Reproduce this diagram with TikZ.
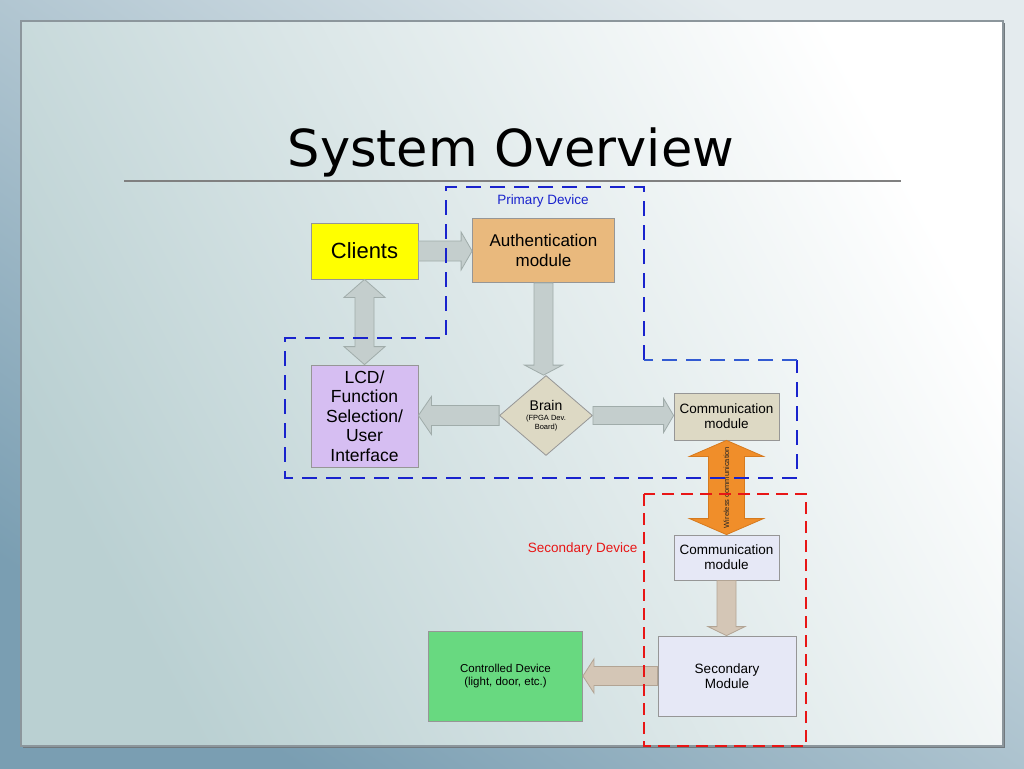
\documentclass[tikz,border=0pt]{standalone}
\usepackage{fontspec}
\setmainfont{Liberation Sans}
\newfontfamily\titlefont{DejaVu Sans}
\usetikzlibrary{calc,shapes.geometric}
\definecolor{cyellow}{RGB}{255,255,0}
\definecolor{cauth}{RGB}{233,185,125}
\definecolor{clcd}{RGB}{214,190,242}
\definecolor{cbeige}{RGB}{221,217,196}
\definecolor{clav}{RGB}{230,232,246}
\definecolor{cgreen}{RGB}{104,217,128}
\definecolor{boxline}{RGB}{150,150,150}
\definecolor{agray}{RGB}{196,206,205}
\definecolor{agrayd}{RGB}{160,172,170}
\definecolor{atan}{RGB}{212,198,182}
\definecolor{atand}{RGB}{178,164,148}
\definecolor{aorange}{RGB}{240,142,42}
\definecolor{aoranged}{RGB}{214,122,30}
\definecolor{cblue}{RGB}{25,35,205}
\definecolor{cbluel}{RGB}{50,90,210}
\definecolor{cred}{RGB}{232,22,22}
\definecolor{bgdark}{RGB}{122,158,178}
\definecolor{bglight}{RGB}{228,235,238}
\definecolor{panelteal}{RGB}{186,208,210}
\definecolor{panelborder}{RGB}{140,150,156}

\newcommand\blockarrow[6][]{%
  \path (#2); \pgfgetlastxy{\bax}{\bay}%
  \path (#3); \pgfgetlastxy{\bbx}{\bby}%
  \pgfmathsetmacro\bang{atan2(\bby-(\bay),\bbx-(\bax))}%
  \pgfmathsetmacro\blen{veclen(\bbx-(\bax),\bby-(\bay))}%
  \pgfmathsetmacro\bneck{\blen-#6}%
  \draw[#1,shift={(\bax,\bay)},rotate=\bang] (0,#4) -- (\bneck,#4) -- (\bneck,#5)
     -- (\blen,0) -- (\bneck,-#5) -- (\bneck,-#4) -- (0,-#4) -- cycle;}
\newcommand\dblarrow[6][]{%
  \path (#2); \pgfgetlastxy{\bax}{\bay}%
  \path (#3); \pgfgetlastxy{\bbx}{\bby}%
  \pgfmathsetmacro\bang{atan2(\bby-(\bay),\bbx-(\bax))}%
  \pgfmathsetmacro\blen{veclen(\bbx-(\bax),\bby-(\bay))}%
  \pgfmathsetmacro\bneck{\blen-#6}%
  \draw[#1,shift={(\bax,\bay)},rotate=\bang] (0,0) -- (#6,#5) -- (#6,#4) -- (\bneck,#4)
     -- (\bneck,#5) -- (\blen,0) -- (\bneck,-#5) -- (\bneck,-#4) -- (#6,-#4) -- (#6,-#5) -- cycle;}

\begin{document}
\begin{tikzpicture}[x=1pt,y=-1pt,
  box/.style={draw=boxline, line width=0.8pt, inner sep=0pt, align=center, text=black},
  garrow/.style={fill=agray, draw=agrayd, line width=0.8pt},
  tarrow/.style={fill=atan, draw=atand, line width=0.8pt},
  oarrow/.style={fill=aorange, draw=aoranged, line width=0.8pt},
  bluedash/.style={draw=cblue, line width=2.4pt, dash pattern=on 15pt off 9pt},
  reddash/.style={draw=cred, line width=2.4pt, dash pattern=on 12pt off 7pt}]
\useasboundingbox (0,0) rectangle (1024,768);
% slide background
\shade[top color=bglight, bottom color=bgdark, shading angle=-35] (0,0) rectangle (1024,768);
\shade[top color=white, bottom color=panelteal, shading angle=-62] (21,21) rectangle (1003,746);
\draw[panelborder, line width=1.2pt] (21,21) rectangle (1003,746);
\draw[color=panelborder!80!black, line width=1.4pt] (1004.5,23) -- (1004.5,747.5) -- (23,747.5);
% title
\node[font=\titlefont\fontsize{51}{60}\selectfont, anchor=base] (title) at (511,166) {System Overview};
\draw[color=black!50, line width=2pt] (124,181) -- (901,181);

% nodes
\node[box, fill=cyellow, minimum width=107, minimum height=56, font=\fontsize{22}{26}\selectfont] (clients) at (364.5,251) {Clients};
\node[box, fill=cauth, minimum width=142, minimum height=64, font=\fontsize{17}{19.5}\selectfont] (auth) at (543.5,250.5) {Authentication\\module};
\node[box, fill=clcd, minimum width=107, minimum height=102, font=\fontsize{17.5}{19.5}\selectfont] (lcd) at (364.5,416) {LCD/\\Function\\Selection/\\User\\Interface};
\node[diamond, draw=boxline, line width=0.8pt, fill=cbeige, minimum width=93, minimum height=80, inner sep=0pt, align=center, font=\fontsize{7.5}{8.5}\selectfont] (brain) at (546,415.5) {{\fontsize{14}{15}\selectfont Brain}\\[1.5pt](FPGA Dev.\\Board)};
\node[box, fill=cbeige, minimum width=105, minimum height=47, font=\fontsize{13.5}{15}\selectfont] (comm1) at (726.5,416.5) {Communication\\module};
\node[box, fill=clav, minimum width=105, minimum height=45, font=\fontsize{13.5}{15}\selectfont] (comm2) at (726.5,557.5) {Communication\\module};
\node[box, fill=clav, minimum width=138, minimum height=80, font=\fontsize{13.5}{15}\selectfont] (sec) at (727,676) {Secondary\\Module};
\node[box, fill=cgreen, minimum width=154, minimum height=90, font=\fontsize{11.5}{13}\selectfont] (ctrl) at (505.5,676.5) {Controlled Device\\(light, door, etc.)};

% connectors
\blockarrow[garrow]{clients.east}{clients.east -| auth.west}{10}{19}{11}
\dblarrow[garrow]{clients.south}{lcd.north}{9.5}{20.5}{18}
\blockarrow[garrow]{auth.south}{auth.south |- brain.north}{9.5}{19}{10}
\blockarrow[garrow]{brain.west}{brain.west -| lcd.east}{10}{19}{13}
\blockarrow[garrow]{brain.east}{brain.east -| comm1.west}{9}{17}{10}
\dblarrow[oarrow]{comm1.south}{comm2.north}{18}{37}{16}
\blockarrow[tarrow]{comm2.south}{comm2.south |- sec.north}{9.5}{18.5}{9}
\blockarrow[tarrow]{sec.west}{sec.west -| ctrl.east}{9.5}{17}{11}
\path (comm1.south) -- (comm2.north) node[midway, rotate=90, font=\fontsize{7.5}{8}\selectfont, text=black!85] (wl) {Wireless communication};

% device boundaries
\draw[bluedash] (644,360) -- (644,187) -- (446,187) -- (446,338) -- (285,338) -- (285,478) -- (797,478) -- (797,360);
\draw[bluedash, draw=cbluel] (797,360) -- (644,360);
\node[text=cblue, font=\fontsize{13.5}{16}\selectfont] (plabel) at (543,201) {Primary Device};
\draw[reddash] (644,494) rectangle (806,746);
\node[text=cred, anchor=east, font=\fontsize{13.5}{16}\selectfont] (slabel) at (641,549) {Secondary Device};
\end{tikzpicture}
\end{document}
